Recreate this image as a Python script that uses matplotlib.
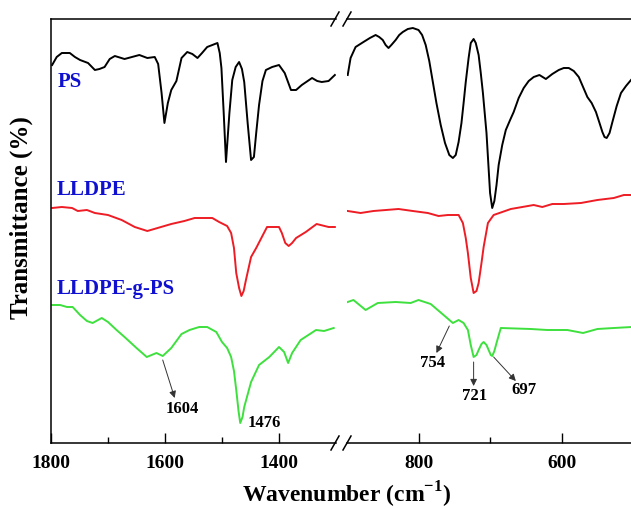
import numpy as np
import matplotlib
matplotlib.use("Agg")
import matplotlib.pyplot as plt
from matplotlib.lines import Line2D

plt.rcParams['font.family'] = ['Liberation Serif', 'DejaVu Serif']
plt.rcParams['font.weight'] = 'bold'
plt.rcParams['mathtext.fontset'] = 'custom'
plt.rcParams['mathtext.rm'] = 'Liberation Serif:bold'
plt.rcParams['mathtext.bf'] = 'Liberation Serif:bold'

# ---- spectra, high wavenumber window (1800-1300) ----
ps_wn_hi = [1798, 1790, 1781, 1767, 1758, 1749, 1735, 1723, 1715, 1706, 1697, 1688, 1671, 1658,
            1645, 1631, 1618, 1612, 1606, 1601, 1595, 1589, 1580, 1571, 1561, 1552, 1543, 1535,
            1526, 1508, 1504, 1501, 1497, 1493, 1487, 1482, 1476, 1470, 1465, 1461, 1455, 1449,
            1444, 1440, 1435, 1429, 1423, 1412, 1400, 1390, 1379, 1370, 1360, 1342, 1333, 1325,
            1313, 1302]
ps_t_hi = [378, 386, 390, 390, 386, 383, 380, 373, 374, 376, 384, 387, 384, 386,
           388, 385, 386, 379, 350, 320, 340, 353, 362, 385, 391, 389, 385, 390,
           396, 400, 390, 375, 330, 281, 330, 363, 376, 381, 374, 361, 320, 283,
           286, 310, 338, 362, 373, 376, 378, 370, 353, 353, 358, 365, 362, 361,
           362, 368]

pe_wn_hi = [1798, 1781, 1763, 1753, 1737, 1723, 1700, 1676, 1653, 1631, 1613, 1589, 1566,
            1548, 1534, 1517, 1505, 1491, 1484, 1479, 1475, 1470, 1466, 1462, 1458, 1449,
            1440, 1421, 1400, 1395, 1389, 1383, 1377, 1370, 1353, 1334, 1313, 1302]
pe_t_hi = [235, 236, 235, 232, 233, 230, 228, 223, 216, 212, 215, 219, 222,
           225, 225, 225, 221, 217, 210, 195, 170, 155, 147, 152, 163, 186,
           195, 216, 216, 210, 200, 197, 200, 205, 211, 219, 216, 216]

gp_wn_hi = [1798, 1784, 1772, 1762, 1749, 1737, 1727, 1711, 1700, 1685, 1671, 1650, 1632,
            1615, 1604, 1589, 1571, 1557, 1540, 1526, 1510, 1500, 1491, 1484, 1479, 1475,
            1471, 1468, 1464, 1461, 1449, 1435, 1417, 1400, 1391, 1384, 1377, 1362, 1335,
            1321, 1304]
gp_t_hi = [138, 138, 136, 136, 128, 122, 120, 125, 121, 113, 106, 95, 86,
           90, 87, 95, 109, 113, 116, 116, 111, 101, 95, 86, 72, 53,
           32, 20, 26, 36, 61, 78, 86, 96, 91, 80, 90, 103, 113,
           112, 115]

# ---- spectra, low wavenumber window (900-500) ----
ps_wn_lo = [899, 895, 888, 877, 868, 860, 855, 850, 846, 842, 838, 832, 827, 822, 815,
            808, 800, 795, 790, 785, 780, 775, 769, 763, 757, 752, 748, 744, 740, 737,
            734, 730, 727, 723, 720, 716, 713, 710, 705, 700, 697, 694, 691, 688, 683,
            678, 672, 667, 660, 653, 646, 639, 631, 622, 613, 604, 597, 590, 583, 576,
            570, 564, 558, 552, 547, 543, 540, 537, 533, 529, 523, 517, 510, 503]
ps_t_lo = [368, 385, 396, 401, 405, 408, 406, 403, 398, 395, 398, 403, 408, 411, 414,
           415, 413, 408, 398, 382, 361, 340, 318, 300, 288, 285, 288, 301, 320, 340,
           361, 385, 400, 404, 400, 388, 370, 350, 310, 250, 235, 242, 258, 278, 298,
           313, 323, 331, 345, 355, 362, 366, 368, 364, 369, 373, 375, 375, 372, 366,
           356, 346, 340, 331, 320, 311, 306, 305, 310, 321, 337, 350, 357, 363]

pe_wn_lo = [899, 881, 863, 828, 808, 787, 772, 759, 744, 738, 734, 731, 727, 723, 719,
            716, 712, 709, 703, 695, 671, 639, 627, 613, 597, 573, 550, 527, 513, 503]
pe_t_lo = [232, 230, 232, 234, 232, 230, 227, 228, 228, 220, 205, 190, 165, 150, 152,
           160, 180, 196, 220, 228, 234, 238, 236, 239, 239, 240, 243, 245, 248, 248]

gp_wn_lo = [899, 891, 874, 857, 832, 811, 800, 783, 765, 752, 744, 737, 731, 727, 723,
            719, 716, 712, 709, 705, 702, 699, 697, 694, 691, 685, 643, 620, 592, 570,
            550, 527, 502]
gp_t_lo = [141, 143, 133, 140, 141, 140, 143, 139, 128, 120, 123, 120, 113, 98, 86,
           88, 93, 99, 101, 98, 93, 88, 87, 92, 100, 115, 114, 113, 113, 110,
           114, 115, 116]

labels = ['PS', 'LLDPE', 'LLDPE-g-PS']
colors = ['black', '#ee1c24', '#3ee03e']

W, H = 631, 509
fig = plt.figure(figsize=(W / 100, H / 100), dpi=100)

def px_rect(x0, x1, ytop, ybot):
    return [x0 / W, (H - ybot) / H, (x1 - x0) / W, (ybot - ytop) / H]

ax1 = fig.add_axes(px_rect(51, 336, 19, 443))
ax2 = fig.add_axes(px_rect(347, 631, 19, 443))

for ax, wns, ts in [(ax1, [ps_wn_hi, pe_wn_hi, gp_wn_hi], [ps_t_hi, pe_t_hi, gp_t_hi]),
                    (ax2, [ps_wn_lo, pe_wn_lo, gp_wn_lo], [ps_t_lo, pe_t_lo, gp_t_lo])]:
    for wn, t, c in zip(wns, ts, colors):
        ax.plot(wn, t, color=c, lw=1.4, solid_joinstyle='round')
    ax.set_ylim(0, 424)
    ax.set_yticks([])
    ax.tick_params(axis='x', direction='in', length=7, width=1, pad=9, labelsize=14)
    ax.tick_params(axis='x', which='minor', direction='in', length=4, width=1)
    for s in ax.spines.values():
        s.set_linewidth(1.1)

ax1.set_xlim(1800, 1300)
ax1.set_xticks([1800, 1600, 1400])
ax1.set_xticks([1700, 1500], minor=True)
ax1.spines['right'].set_visible(False)

ax2.set_xlim(900, 503)
ax2.set_xticks([800, 600])
ax2.set_xticks([700], minor=True)
ax2.spines['left'].set_visible(False)
ax2.spines['right'].set_visible(False)

for ax in (ax1, ax2):
    for lab in ax.get_xticklabels():
        lab.set_fontweight('bold')

# sample names
name_kw = dict(color='#1010d0', fontsize=15, fontweight='bold', ha='left', va='center')
ax1.text(1788, 361, labels[0], **name_kw)
ax1.text(1791, 253, labels[1], **name_kw)
ax1.text(1791, 154, labels[2], **name_kw)

# band annotations
arrow = dict(arrowstyle='-|>', color='#333333', lw=0.7, mutation_scale=10, shrinkA=0, shrinkB=0)
num_kw = dict(fontsize=12, fontweight='bold', ha='center', va='center')
ax1.annotate('', xy=(1583, 45), xytext=(1604, 83), arrowprops=arrow)
ax1.text(1569, 34, '1604', **num_kw)
ax1.text(1426, 20, '1476', **num_kw)
ax2.annotate('', xy=(775, 90), xytext=(757, 117), arrowprops=arrow)
ax2.text(780, 80, '754', **num_kw)
ax2.annotate('', xy=(723, 57), xytext=(723, 81), arrowprops=arrow)
ax2.text(722, 47, '721', **num_kw)
ax2.annotate('', xy=(664, 62), xytext=(695, 86), arrowprops=arrow)
ax2.text(653, 53, '697', **num_kw)

# axis break marks
for yb in (19, 443):
    for xb in (335, 347):
        fig.add_artist(Line2D([(xb - 4) / W, (xb + 4) / W],
                              [(H - yb - 7) / H, (H - yb + 7) / H],
                              transform=fig.transFigure, color='black', lw=1.1))

fig.text(347 / W, (H - 495) / H, r'Wavenumber (cm$^{-1}$)', fontsize=17, fontweight='bold',
         ha='center', va='center')
fig.text(21 / W, (H - 218) / H, 'Transmittance (%)', fontsize=18, fontweight='bold',
         ha='center', va='center', rotation=90)

fig.savefig('out.png', dpi=100)
